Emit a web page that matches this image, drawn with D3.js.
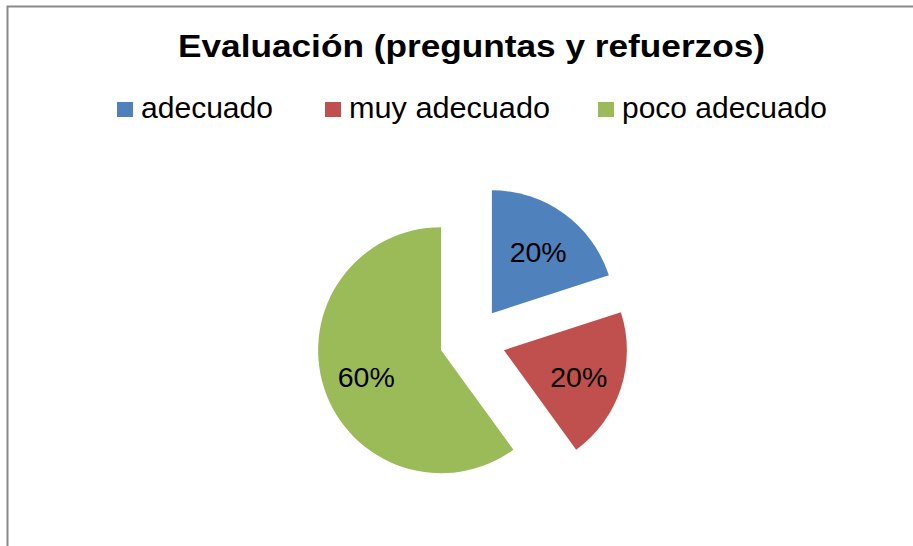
<!DOCTYPE html>
<html>
<head>
<meta charset="utf-8">
<script src="https://cdn.jsdelivr.net/npm/d3@7"></script>
<style>
  html, body { margin: 0; padding: 0; background: #fff; }
  svg { display: block; }
</style>
</head>
<body>
<svg id="chart" width="913" height="546"></svg>
<script>
// Survey result: rating of questions and reinforcement
const categories = ["adecuado", "muy adecuado", "poco adecuado"];
const values = [20, 20, 60];
const colors = ["#4F81BD", "#C0504D", "#9BBB59"];
const title = "Evaluación (preguntas y refuerzos)";

const svg = d3.select("#chart");
const W = 913, H = 546;
const font = "'Liberation Sans', Arial, sans-serif";

// chart frame (runs past right and bottom edges)
svg.append("rect")
  .attr("x", 7.5).attr("y", 6.5)
  .attr("width", W + 20).attr("height", H + 20)
  .attr("fill", "#fff")
  .attr("stroke", "#898989")
  .attr("stroke-width", 2);

// title, stretched to the width of the heading line
svg.append("text")
  .attr("x", 178).attr("y", 57)
  .attr("font-family", font)
  .attr("font-weight", "bold")
  .attr("font-size", 32)
  .attr("textLength", 587)
  .attr("lengthAdjust", "spacingAndGlyphs")
  .attr("fill", "#000")
  .text(title);

// legend
const legendX = [117, 325, 598];
const legendW = [132, 201, 205];
const legend = svg.append("g");
categories.forEach((c, i) => {
  const g = legend.append("g").attr("transform", `translate(${legendX[i]},0)`);
  g.append("rect")
    .attr("x", 0).attr("y", 102)
    .attr("width", 16).attr("height", 15)
    .attr("fill", colors[i]);
  g.append("text")
    .attr("x", 24).attr("y", 118)
    .attr("font-family", font)
    .attr("font-size", 29)
    .attr("textLength", legendW[i])
    .attr("lengthAdjust", "spacingAndGlyphs")
    .attr("fill", "#000")
    .text(c);
});

// exploded pie
const cx = 472.5, cy = 340, r = 123, explode = 33;
const pie = d3.pie().sort(null).value(d => d)(values);
const total = d3.sum(values);
const arc = d3.arc().innerRadius(0).outerRadius(r);

const slices = svg.append("g").attr("transform", `translate(${cx},${cy})`)
  .selectAll("g").data(pie).join("g")
  .attr("transform", d => {
    const a = (d.startAngle + d.endAngle) / 2;
    return `translate(${explode * Math.sin(a)},${-explode * Math.cos(a)})`;
  });

slices.append("path")
  .attr("d", arc)
  .attr("fill", (d, i) => colors[i]);

slices.append("text")
  .attr("transform", d => {
    const a = (d.startAngle + d.endAngle) / 2;
    const lr = r * 0.64;
    return `translate(${lr * Math.sin(a)},${-lr * Math.cos(a)})`;
  })
  .attr("text-anchor", "middle")
  .attr("dy", "0.45em")
  .attr("font-family", font)
  .attr("font-size", 28.5)
  .attr("fill", "#000")
  .text(d => Math.round(d.value / total * 100) + "%");
</script>
</body>
</html>
